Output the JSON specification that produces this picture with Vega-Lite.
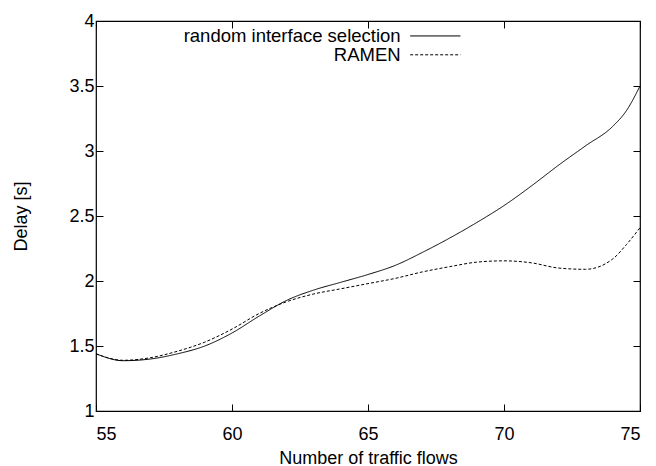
{
  "$schema": "https://vega.github.io/schema/vega-lite/v6.json",
  "width": 544,
  "height": 390,
  "autosize": {"type": "none"},
  "padding": {"left": 96, "top": 21, "right": 16, "bottom": 55},
  "background": "white",
  "config": {
    "view": {"stroke": "black", "strokeWidth": 1.2},
    "font": "Liberation Sans",
    "axis": {"grid": false, "domain": false, "labelFont": "Liberation Sans", "labelFontSize": 18, "labelColor": "black", "titleFont": "Liberation Sans", "titleFontSize": 18, "titleFontWeight": "normal", "titleColor": "black", "format": "~g"}
  },
  "datasets": {
    "curves": [
      {"flows": 55, "delay": 1.44, "series": "random interface selection"},
      {"flows": 56, "delay": 1.387, "series": "random interface selection"},
      {"flows": 57, "delay": 1.40, "series": "random interface selection"},
      {"flows": 58, "delay": 1.44, "series": "random interface selection"},
      {"flows": 59, "delay": 1.50, "series": "random interface selection"},
      {"flows": 60, "delay": 1.60, "series": "random interface selection"},
      {"flows": 61, "delay": 1.73, "series": "random interface selection"},
      {"flows": 62, "delay": 1.85, "series": "random interface selection"},
      {"flows": 63, "delay": 1.93, "series": "random interface selection"},
      {"flows": 64, "delay": 1.99, "series": "random interface selection"},
      {"flows": 65, "delay": 2.05, "series": "random interface selection"},
      {"flows": 66, "delay": 2.12, "series": "random interface selection"},
      {"flows": 67, "delay": 2.22, "series": "random interface selection"},
      {"flows": 68, "delay": 2.33, "series": "random interface selection"},
      {"flows": 69, "delay": 2.45, "series": "random interface selection"},
      {"flows": 70, "delay": 2.58, "series": "random interface selection"},
      {"flows": 71, "delay": 2.73, "series": "random interface selection"},
      {"flows": 72, "delay": 2.89, "series": "random interface selection"},
      {"flows": 73, "delay": 3.04, "series": "random interface selection"},
      {"flows": 74, "delay": 3.19, "series": "random interface selection"},
      {"flows": 74.5, "delay": 3.31, "series": "random interface selection"},
      {"flows": 75, "delay": 3.5, "series": "random interface selection"},
      {"flows": 55, "delay": 1.44, "series": "RAMEN"},
      {"flows": 56, "delay": 1.39, "series": "RAMEN"},
      {"flows": 57, "delay": 1.41, "series": "RAMEN"},
      {"flows": 58, "delay": 1.46, "series": "RAMEN"},
      {"flows": 59, "delay": 1.53, "series": "RAMEN"},
      {"flows": 60, "delay": 1.63, "series": "RAMEN"},
      {"flows": 61, "delay": 1.75, "series": "RAMEN"},
      {"flows": 62, "delay": 1.84, "series": "RAMEN"},
      {"flows": 63, "delay": 1.90, "series": "RAMEN"},
      {"flows": 64, "delay": 1.94, "series": "RAMEN"},
      {"flows": 65, "delay": 1.98, "series": "RAMEN"},
      {"flows": 66, "delay": 2.02, "series": "RAMEN"},
      {"flows": 67, "delay": 2.07, "series": "RAMEN"},
      {"flows": 68, "delay": 2.11, "series": "RAMEN"},
      {"flows": 69, "delay": 2.145, "series": "RAMEN"},
      {"flows": 70, "delay": 2.155, "series": "RAMEN"},
      {"flows": 71, "delay": 2.14, "series": "RAMEN"},
      {"flows": 72, "delay": 2.10, "series": "RAMEN"},
      {"flows": 73, "delay": 2.09, "series": "RAMEN"},
      {"flows": 74, "delay": 2.17, "series": "RAMEN"},
      {"flows": 74.5, "delay": 2.28, "series": "RAMEN"},
      {"flows": 75, "delay": 2.41, "series": "RAMEN"}
    ]
  },
  "resolve": {"axis": {"x": "independent", "y": "independent"}},
  "layer": [
    {
      "data": {"name": "curves"},
      "mark": {"type": "line", "interpolate": "monotone", "strokeWidth": 1, "color": "black"},
      "encoding": {
        "x": {"field": "flows", "type": "quantitative", "scale": {"domain": [55, 75], "nice": false, "zero": false}, "axis": {"title": "Number of traffic flows", "values": [55, 60, 65, 70, 75], "ticks": true, "tickColor": "black", "tickSize": -7, "tickWidth": 1, "labelPadding": 21, "titlePadding": 6}},
        "y": {"field": "delay", "type": "quantitative", "scale": {"domain": [1, 4], "nice": false, "zero": false}, "axis": {"title": "Delay [s]", "values": [1, 1.5, 2, 2.5, 3, 3.5, 4], "ticks": true, "tickColor": "black", "tickSize": -7, "tickWidth": 1, "labelPadding": 9, "titlePadding": 38}},
        "strokeDash": {"field": "series", "type": "nominal", "scale": {"domain": ["random interface selection", "RAMEN"], "range": [[1, 0], [3, 2]]}, "legend": null},
        "detail": {"field": "series"}
      }
    },
    {
      "data": {"values": [{"label": "random interface selection"}]},
      "mark": {"type": "text", "align": "right", "baseline": "middle", "fontSize": 18.5, "font": "Liberation Sans", "color": "black"},
      "encoding": {
        "x": {"datum": 66.2, "type": "quantitative", "axis": {"orient": "top", "labels": false, "title": null, "values": [55, 60, 65, 70, 75], "ticks": true, "tickColor": "black", "tickSize": -7, "tickWidth": 1}},
        "y": {"datum": 3.885, "type": "quantitative", "axis": {"orient": "right", "labels": false, "title": null, "values": [1, 1.5, 2, 2.5, 3, 3.5, 4], "ticks": true, "tickColor": "black", "tickSize": -7, "tickWidth": 1}},
        "text": {"field": "label"}
      }
    },
    {
      "data": {"values": [{"label": "RAMEN"}]},
      "mark": {"type": "text", "align": "right", "baseline": "middle", "fontSize": 18.5, "font": "Liberation Sans", "color": "black"},
      "encoding": {
        "x": {"datum": 66.2, "type": "quantitative", "axis": null},
        "y": {"datum": 3.74, "type": "quantitative", "axis": null},
        "text": {"field": "label"}
      }
    },
    {
      "data": {"values": [{"label": "random interface selection"}]},
      "mark": {"type": "rule", "color": "black", "strokeWidth": 1},
      "encoding": {
        "x": {"datum": 66.55, "type": "quantitative", "axis": null},
        "x2": {"datum": 68.4},
        "y": {"datum": 3.885, "type": "quantitative", "axis": null}
      }
    },
    {
      "data": {"values": [{"label": "RAMEN"}]},
      "mark": {"type": "rule", "color": "black", "strokeWidth": 1, "strokeDash": [3, 2]},
      "encoding": {
        "x": {"datum": 66.55, "type": "quantitative", "axis": null},
        "x2": {"datum": 68.4},
        "y": {"datum": 3.74, "type": "quantitative", "axis": null}
      }
    }
  ]
}
